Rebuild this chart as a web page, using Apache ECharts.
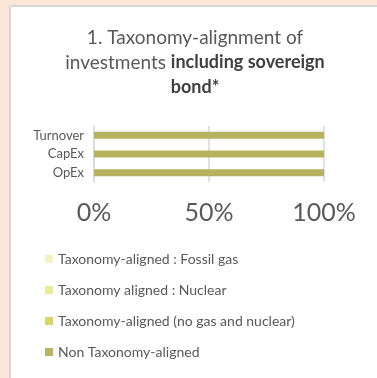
<!DOCTYPE html>
<html>
<head>
<meta charset="utf-8">
<script src="https://cdn.jsdelivr.net/npm/echarts@6/dist/echarts.min.js"></script>
<style>
  html, body { margin: 0; padding: 0; width: 377px; height: 378px; overflow: hidden; background: #fbe5d6; }
  #panel { position: absolute; left: 9px; top: 5px; right: 0; bottom: 0; background: #ffffff;
           border-left: 2px solid #d9d9d9; border-top: 2px solid #d9d9d9; }
  #chart { position: absolute; left: 0; top: 0; width: 377px; height: 378px; }
</style>
</head>
<body>
<div id="panel"></div>
<div id="chart"></div>
<script>
// Categories, bottom to top on the category axis
const categories = ['OpEx', 'CapEx', 'Turnover'];
const xTicks = [0, 50, 100];

// Share of investments (%) per category
const fossilGas = [0, 0, 0];
const nuclear = [0, 0, 0];
const alignedNoGasNuclear = [0, 0, 0];
const nonAligned = [100, 100, 100];

const seriesNames = [
  'Taxonomy-aligned : Fossil gas',
  'Taxonomy aligned : Nuclear',
  'Taxonomy-aligned (no gas and nuclear)',
  'Non Taxonomy-aligned'
];
const seriesColors = ['#f2f2c4', '#eaea9a', '#d6d66a', '#b5b35e'];
const seriesData = [fossilGas, nuclear, alignedNoGasNuclear, nonAligned];

const FONT = 'Lato, "Open Sans", sans-serif';
const chart = echarts.init(document.getElementById('chart'), null, { renderer: 'canvas' });

chart.setOption({
  backgroundColor: 'transparent',
  animation: false,
  textStyle: { fontFamily: FONT },
  title: {
    left: 195,
    top: 25,
    padding: 0,
    textAlign: 'center',
    text: '{n|1. Taxonomy-alignment of}\n{n|investments }{b|including sovereign}\n{b|bond*}',
    textStyle: {
      fontFamily: FONT,
      fontWeight: 'normal',
      rich: {
        n: { fontFamily: FONT, fontSize: 19, fontWeight: 'normal', color: '#595959', lineHeight: 25 },
        b: { fontFamily: FONT, fontSize: 18, fontWeight: 'bold', color: '#404040', lineHeight: 25 }
      }
    }
  },
  legend: {
    orient: 'vertical',
    left: 45,
    top: 252,
    padding: 0,
    itemWidth: 8,
    itemHeight: 8,
    itemGap: 17,
    icon: 'rect',
    data: seriesNames,
    textStyle: { fontFamily: FONT, fontSize: 14, color: '#595959', lineHeight: 14 }
  },
  grid: { left: 94, right: 53, top: 126, height: 56, containLabel: false },
  xAxis: {
    type: 'value',
    min: xTicks[0],
    max: xTicks[xTicks.length - 1],
    interval: xTicks[1] - xTicks[0],
    axisLine: { show: false },
    axisTick: { show: false },
    splitLine: { show: true, lineStyle: { color: '#d9d9d9', width: 1.5 } },
    axisLabel: { formatter: '{value}%', fontFamily: FONT, fontSize: 25, color: '#595959', margin: 18 }
  },
  yAxis: {
    type: 'category',
    data: categories,
    axisLine: { show: true, lineStyle: { color: '#d9d9d9', width: 1.5 } },
    axisTick: { show: false },
    axisLabel: { fontFamily: FONT, fontSize: 13, color: '#595959', margin: 10 }
  },
  series: seriesNames.map((name, i) => ({
    name: name,
    type: 'bar',
    stack: 'total',
    barWidth: 7,
    itemStyle: { color: seriesColors[i] },
    data: seriesData[i]
  }))
});
</script>
</body>
</html>
